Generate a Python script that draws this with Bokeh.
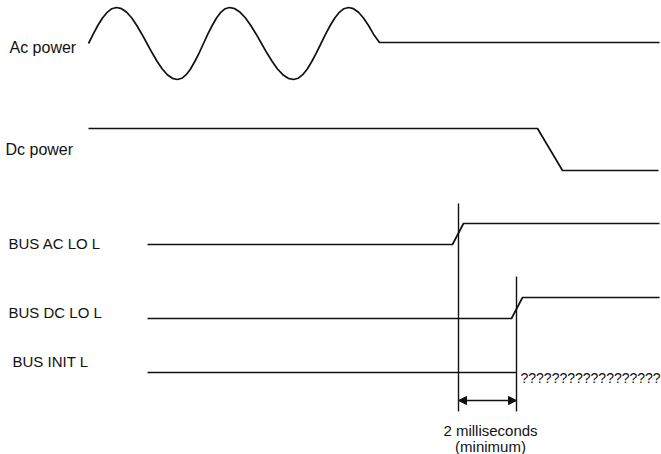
from bokeh.plotting import figure
from bokeh.models import Range1d, Arrow, NormalHead
from bokeh.core.properties import value
from bokeh.embed import file_html
from bokeh.resources import INLINE

# ---- data (diagram coordinates; y grows downward) ----
power_names = ["Ac power", "Dc power"]
power_label_x = [9, 5]
power_label_y = [47, 149]

bus_names = ["BUS AC LO L", "BUS DC LO L", "BUS INIT L"]
bus_label_x = [8, 8, 12]
bus_label_y = [243, 312, 361]

# Ac power: traced sine trace (2.5 cycles) then flat
ac_x = [88, 92.7, 97.3, 102, 106.7, 111.3, 116,
        121.1, 126.2, 131.3, 136.3, 141.4, 146.5,
        151.6, 156.7, 161.8, 166.8, 171.9, 177,
        181.3, 185.7, 190, 194.3, 198.7, 203,
        207.3, 211.7, 216, 220.3, 224.7, 229,
        234.3, 239.7, 245, 250.3, 255.7, 261,
        266.3, 271.7, 277, 282.3, 287.7, 293,
        297.6, 302.2, 306.8, 311.3, 315.9, 320.5,
        325.1, 329.7, 334.3, 338.8, 343.4, 348,
        353, 358, 363, 368, 373, 379, 659]
ac_y = [43, 33.7, 25, 17.5, 11.8, 8.2, 7,
        8.2, 11.8, 17.5, 25, 33.7, 43,
        52.3, 61, 68.5, 74.2, 77.8, 79,
        77.8, 74.2, 68.5, 61, 52.3, 43,
        33.7, 25, 17.5, 11.8, 8.2, 7,
        8.2, 11.8, 17.5, 25, 33.7, 43,
        52.3, 61, 68.5, 74.2, 77.8, 79,
        77.8, 74.2, 68.5, 61, 52.3, 43,
        33.7, 25, 17.5, 11.8, 8.2, 7,
        8.2, 11.8, 17.5, 25, 33.7, 42, 42]

dc_x = [88, 537, 562, 658]
dc_y = [128, 128, 170, 170]

aclo_x = [147, 452, 463, 659]
aclo_y = [244, 244, 223, 223]

dclo_x = [147, 511, 522, 659]
dclo_y = [318, 318, 297, 297]

init_x = [147, 516]
init_y = [372, 372]
init_unknown = "??????????????????"
unknown_x = 520
unknown_y = 377

# timing markers
marker_x = [458, 516]
marker_top = [203, 276]
marker_bottom = [411, 411]
span_y = 400
span_label = ["2 milliseconds", "(minimum)"]
span_label_x = [490, 490]
span_label_y = [430, 446]

# ---- figure ----
p = figure(width=661, height=454, output_backend="svg", toolbar_location=None,
           x_range=Range1d(0, 661), y_range=Range1d(454, 0),
           min_border=0, background_fill_color="white", border_fill_color="white")
p.axis.visible = False
p.grid.visible = False
p.outline_line_color = None

lw = 1.7
col = "#111111"
for xs, ys in [(ac_x, ac_y), (dc_x, dc_y), (aclo_x, aclo_y), (dclo_x, dclo_y), (init_x, init_y)]:
    p.line(xs, ys, line_color=col, line_width=lw, line_join="round")

p.segment(x0=marker_x, y0=marker_top, x1=marker_x, y1=marker_bottom,
          line_color=col, line_width=1.4)

p.add_layout(Arrow(x_start=marker_x[0], y_start=span_y, x_end=marker_x[1], y_end=span_y,
                   line_color=col, line_width=1.4,
                   start=NormalHead(size=8, fill_color=col, line_color=col),
                   end=NormalHead(size=8, fill_color=col, line_color=col)))

font = value("Liberation Sans")
p.text(x=power_label_x, y=power_label_y, text=power_names, text_font=font,
       text_font_size=value("16px"), text_color=col,
       text_align="left", text_baseline="alphabetic")

p.text(x=bus_label_x, y=bus_label_y, text=bus_names, text_font=font,
       text_font_size=value("15px"), text_color=col,
       text_align="left", text_baseline="alphabetic")

p.text(x=[unknown_x], y=[unknown_y], text=[init_unknown], text_font=font,
       text_font_size=value("14px"), text_color=col,
       text_align="left", text_baseline="alphabetic")

p.text(x=span_label_x, y=span_label_y, text=span_label, text_font=font,
       text_font_size=value("15px"), text_color=col,
       text_align="center", text_baseline="alphabetic")

open("out.html", "w").write(file_html(p, INLINE))
